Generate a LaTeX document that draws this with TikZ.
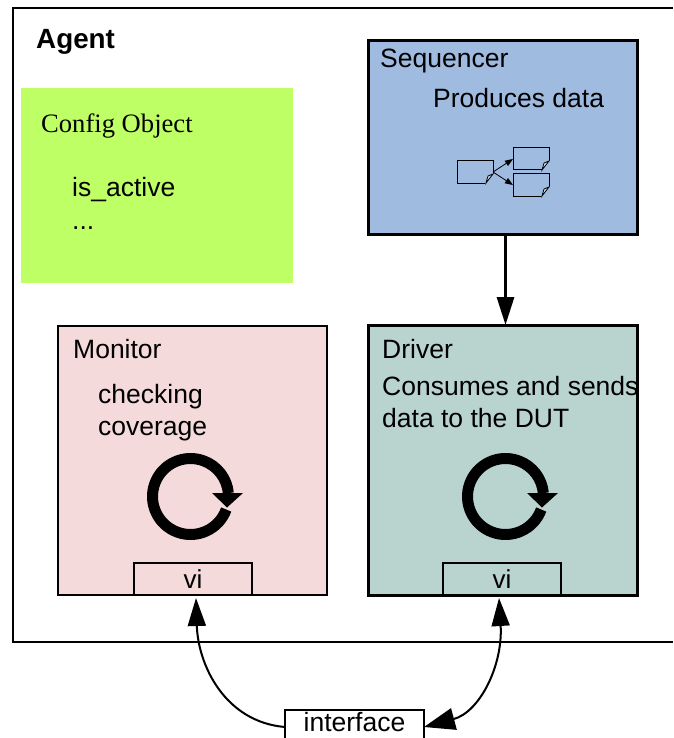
\documentclass[tikz,border=0pt]{standalone}
\usepackage{fontspec}
\setmainfont{Liberation Sans}
\newfontfamily\serifface{Liberation Serif}
\usetikzlibrary{arrows.meta}
\definecolor{cfgcol}{HTML}{BFFF66}
\definecolor{seqcol}{HTML}{A0BBE0}
\definecolor{moncol}{HTML}{F4DADA}
\definecolor{drvcol}{HTML}{B9D3CF}

\begin{document}
\begin{tikzpicture}[x=1pt,y=-1pt,
	block/.style={draw,line width=3pt,anchor=north west,inner sep=0pt,outer sep=0pt},
	vibox/.style={draw,line width=2pt,minimum width=118pt,minimum height=32pt,inner sep=0pt,outer sep=0pt,font=\fontsize{26}{30}\selectfont},
	txt/.style={anchor=base west,inner sep=0pt,font=\fontsize{26.5}{30}\selectfont},
	docbox/.style={draw,line width=1pt,anchor=north west,minimum width=36pt,minimum height=22pt,inner sep=0pt,outer sep=0pt},
	link/.style={line width=2pt,{Stealth[inset=0pt,length=28pt,width=18pt]}-}]

\useasboundingbox (0,0) rectangle (673,738);

% agent
\coordinate (agenta) at (673,8);
\coordinate (agentb) at (673,642);
\draw[line width=2pt] (agenta) -- (13,8) -- (13,642) -- (agentb);
\node[txt,font=\bfseries\fontsize{27.8}{30}\selectfont] (agent) at (36,49) {Agent};

% config
\node[anchor=north west,fill=cfgcol,minimum width=272pt,minimum height=195pt,inner sep=0pt,outer sep=0pt] (config) at (21,88) {};
\node[txt,font=\serifface\fontsize{26.6}{30}\selectfont] (cfgname) at (41,133) {Config Object};
\node[txt] (isactive) at (72,196) {is\_active};
\node[txt] (dots) at (72,229) {...};

% sequencer
\node[block,fill=seqcol,minimum width=269pt,minimum height=193pt] (sequencer) at (368,41) {};
\node[txt] (seqname) at (380,68) {Sequencer};
\node[txt] (seqtext) at (433,108) {Produces data};

% monitor, driver
\node[block,line width=2pt,fill=moncol,minimum width=269pt,minimum height=269pt] (monitor) at (58,326) {};
\node[block,fill=drvcol,minimum width=269pt,minimum height=270pt] (driver) at (368,325) {};
\node[txt] (monname) at (73,358) {Monitor};
\node[txt] (montexta) at (98,403) {checking};
\node[txt] (montextb) at (98,435) {coverage};
\node[txt] (drvname) at (382,358) {Driver};
\node[txt] (drvtexta) at (382,395) {Consumes and sends};
\node[txt] (drvtextb) at (382,427) {data to the DUT};

% little documents
\foreach \n/\x/\y in {doca/457/161,docb/513/148,docc/513/174}{
	\node[docbox] (\n) at (\x,\y) {};
	\fill[seqcol] (\x+28,\y+23) -- (\x+37,\y+23) -- (\x+37,\y+12) -- cycle;
	\draw[line width=0.8pt,fill=seqcol!55!white] (\x+29,\y+22) -- (\x+36,\y+13) -- (\x+31,\y+15) -- cycle;
}
\draw[line width=0.8pt,-{Stealth[inset=0pt,length=8pt,width=6pt]}] (doca.east) -- (docb.west);
\draw[line width=0.8pt,-{Stealth[inset=0pt,length=8pt,width=6pt]}] (doca.east) -- (docc.west);

% loops
\foreach \cx in {190.5,505.5}{
	\draw[line width=11pt] (\cx,496.5) ++(-20:38pt) arc[start angle=-20,end angle=-355,radius=38pt];
	\fill (\cx+21.5,493) -- (\cx+52.5,493) -- (\cx+36.5,507.5) -- cycle;
}

% vi
\node[vibox,anchor=south] (vimon) at (193,595) {vi};
\node[vibox,anchor=south] (vidrv) at (502,595) {vi};
\node[draw,line width=2pt,anchor=north,minimum width=139pt,inner sep=0pt,outer sep=0pt,text height=21pt,text depth=13pt,font=\fontsize{26.5}{30}\selectfont] (interface) at (354.5,710) {interface};

% connections
\draw[line width=3pt,-{Stealth[inset=0pt,length=28pt,width=17pt]}] ([xshift=3pt]sequencer.south) -- ([xshift=3pt]driver.north);
\draw[link] ([xshift=3pt,yshift=-3pt]vimon.south) .. controls (198,665) and (225,722) .. (interface.west);
\draw[link,{Stealth[inset=0pt,length=28pt,width=18pt]}-{Stealth[inset=0pt,length=31pt,width=22pt]}] ([xshift=-3pt,yshift=-3pt]vidrv.south) .. controls (503,665) and (480,712) .. (interface.east);

\end{tikzpicture}
\end{document}
